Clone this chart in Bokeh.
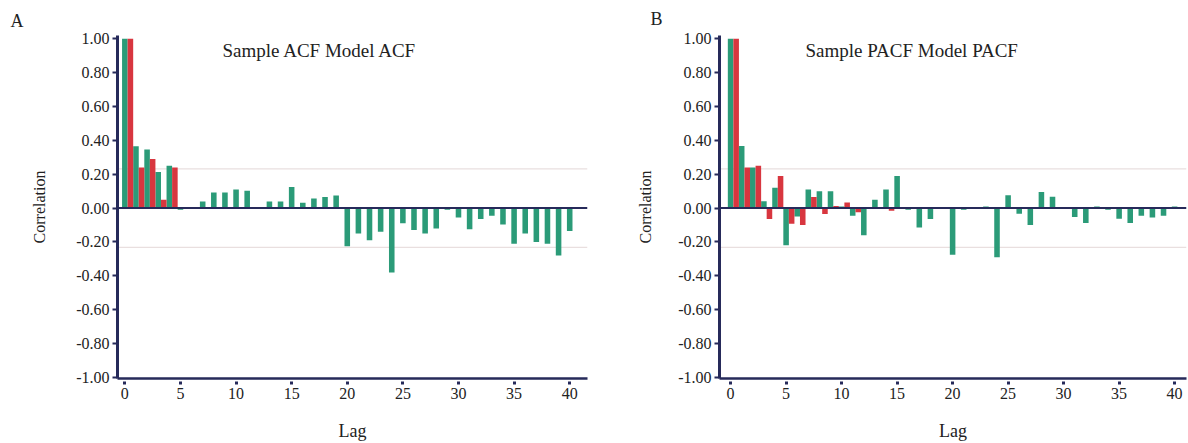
from bokeh.plotting import figure
from bokeh.layouts import row
from bokeh.models import (ColumnDataSource, FixedTicker, PrintfTickFormatter,
                          Span, Label, Range1d, Title)
from bokeh.transform import dodge
from bokeh.embed import file_html
from bokeh.resources import INLINE

# ---------------- data ----------------
lags = list(range(41))
sample_acf = [1.0, 0.365, 0.346, 0.213, 0.25, -0.01, 0.0, 0.039, 0.092, 0.092,
              0.11, 0.102, 0.0, 0.039, 0.039, 0.125, 0.031, 0.057, 0.065, 0.074,
              -0.225, -0.15, -0.19, -0.14, -0.38, -0.09, -0.13, -0.15, -0.12, -0.01,
              -0.055, -0.125, -0.065, -0.045, -0.097, -0.21, -0.15, -0.2, -0.21, -0.28,
              -0.135]
model_lags_acf = [0, 1, 2, 3, 4]
model_acf = [1.0, 0.24, 0.29, 0.05, 0.24]

sample_pacf = [1.0, 0.366, 0.24, 0.04, 0.12, -0.22, -0.05, 0.11, 0.10, 0.10,
               0.01, -0.045, -0.16, 0.05, 0.11, 0.19, -0.01, -0.115, -0.065, 0.0,
               -0.275, -0.01, 0.0, 0.01, -0.29, 0.076, -0.034, -0.10, 0.095, 0.067,
               0.0, -0.053, -0.088, 0.01, -0.01, -0.063, -0.088, -0.045, -0.055, -0.045,
               0.01]
model_lags_pacf = list(range(15))
model_pacf = [1.0, 0.24, 0.25, -0.064, 0.19, -0.092, -0.10, 0.066, -0.035, 0.013,
              0.033, -0.025, 0.0, 0.0, -0.015]

conf_bound = 0.232
y_ticks = [-1.0, -0.8, -0.6, -0.4, -0.2, 0.0, 0.2, 0.4, 0.6, 0.8, 1.0]
x_ticks = [0, 5, 10, 15, 20, 25, 30, 35, 40]

GREEN = "#2b9b78"
RED = "#d8363f"
NAVY = "#262a5a"
GRIDC = "#e9dfdf"
TXT = "#222222"
FONT = "Liberation Serif"


def make_panel(width, border_l, border_r, xr, sample, mlags, model,
               title_text, title_x, letter, letter_off, letter_standoff,
               ylab_standoff):
    p = figure(width=width, height=443, output_backend="svg",
               toolbar_location=None, x_range=Range1d(*xr),
               y_range=Range1d(-1.006, 1.019),
               min_border_left=border_l, min_border_right=border_r,
               min_border_top=35, min_border_bottom=63)
    p.title = Title(text=letter, align="left", offset=letter_off,
                    text_font=FONT, text_font_size="18px",
                    text_font_style="normal", text_color=TXT,
                    standoff=letter_standoff)
    p.outline_line_color = None
    p.xgrid.visible = False
    p.ygrid.visible = False
    p.background_fill_color = "white"

    for v in (conf_bound, -conf_bound):
        p.add_layout(Span(location=v, dimension="width", line_color=GRIDC,
                          line_width=1.2, level="underlay"))

    s_src = ColumnDataSource(dict(lag=lags, val=sample))
    m_src = ColumnDataSource(dict(lag=mlags, val=model))
    p.vbar(x="lag", top="val", bottom=0, width=0.5, source=s_src,
           fill_color=GREEN, line_color=None)
    p.vbar(x=dodge("lag", 0.5), top="val", bottom=0, width=0.5, source=m_src,
           fill_color=RED, line_color=None)

    p.add_layout(Span(location=0, dimension="width", line_color=NAVY,
                      line_width=2))

    # y axis
    ya = p.yaxis[0]
    ya.ticker = FixedTicker(ticks=y_ticks)
    ya.formatter = PrintfTickFormatter(format="%.2f")
    ya.axis_line_color = NAVY
    ya.axis_line_width = 3
    ya.major_tick_line_color = NAVY
    ya.major_tick_line_width = 2
    ya.major_tick_out = 5
    ya.major_tick_in = 0
    ya.minor_tick_line_color = None
    ya.major_label_standoff = 3
    ya.major_label_text_font = FONT
    ya.major_label_text_font_size = "16px"
    ya.major_label_text_color = TXT
    ya.axis_label = "Correlation"
    ya.axis_label_text_font = FONT
    ya.axis_label_text_font_style = "normal"
    ya.axis_label_text_font_size = "16px"
    ya.axis_label_text_color = TXT
    ya.axis_label_standoff = ylab_standoff

    # x axis
    xa = p.xaxis[0]
    xa.ticker = FixedTicker(ticks=x_ticks)
    xa.axis_line_color = NAVY
    xa.axis_line_width = 2.5
    xa.major_tick_line_color = NAVY
    xa.major_tick_line_width = 3
    xa.major_tick_out = 6
    xa.major_tick_in = -3
    xa.minor_tick_line_color = None
    xa.major_label_standoff = 3
    xa.major_label_text_font = FONT
    xa.major_label_text_font_size = "16px"
    xa.major_label_text_color = TXT
    xa.axis_label = "Lag"
    xa.axis_label_text_font = FONT
    xa.axis_label_text_font_style = "normal"
    xa.axis_label_text_font_size = "18px"
    xa.axis_label_text_color = TXT
    xa.axis_label_standoff = 19

    p.add_layout(Label(x=title_x, y=328, x_units="screen", y_units="screen",
                       text=title_text, text_font=FONT, text_font_size="19px",
                       text_baseline="middle", text_color=TXT))
    return p


pA = make_panel(600, 117, 13, (-0.66, 41.6), sample_acf, model_lags_acf,
                model_acf, "Sample ACF Model ACF", 105, "A", -107, 10, 25)
pB = make_panel(588, 119, 2, (-1.0, 41.07), sample_pacf, model_lags_pacf,
                model_pacf, "Sample PACF Model PACF", 86, "B", -69, 13, 21)

layout = row(pA, pB)
open("out.html", "w").write(file_html(layout, INLINE))
